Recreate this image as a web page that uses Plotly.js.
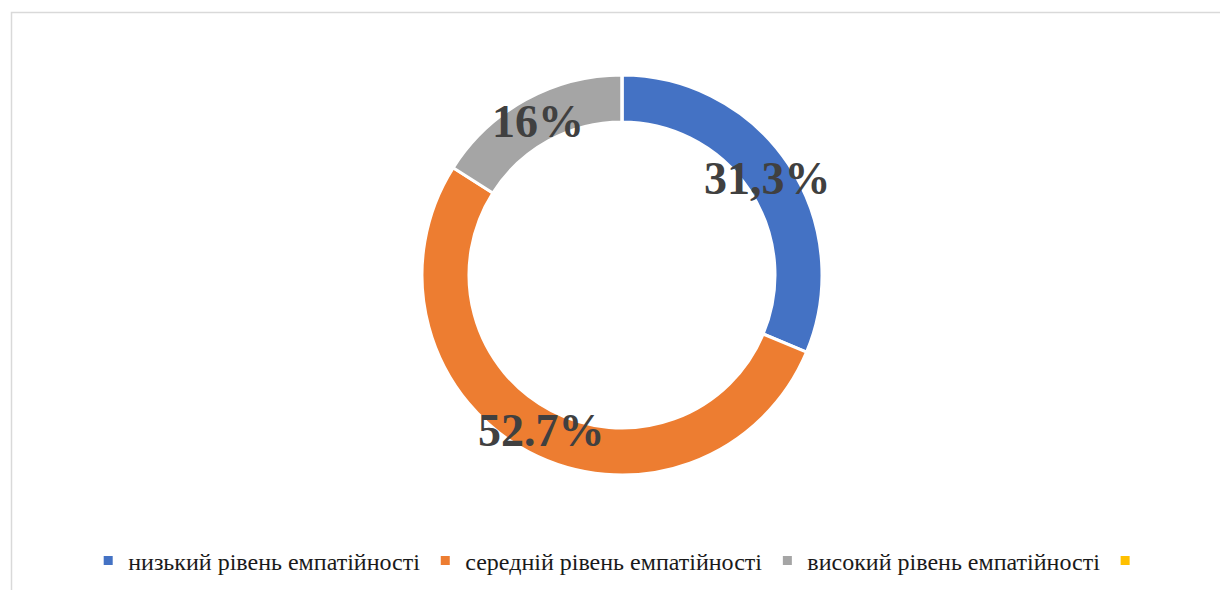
<!DOCTYPE html>
<html>
<head>
<meta charset="utf-8">
<script src="https://cdn.plot.ly/plotly-3.0.1.min.js"></script>
<style>html,body{margin:0;padding:0;background:#fff}#chart{width:1220px;height:590px}</style>
</head>
<body>
<div id="chart"></div>
<script>
var categories = ['низький рівень емпатійності', 'середній рівень емпатійності', 'високий рівень емпатійності', ' '];
var values = [31.3, 52.7, 16, 0];
var valueLabels = ['31,3%', '52.7%', '16%', ''];
var colors = ['#4472C4', '#ED7D31', '#A5A5A5', '#FFC000'];

var W = 1220, H = 590;
var cxPx = 622, cyPx = 275, Rpx = 200;
var dom = {
  x: [(cxPx - Rpx) / W, (cxPx + Rpx) / W],
  y: [1 - (cyPx + Rpx) / H, 1 - (cyPx - Rpx) / H]
};
var serif = 'Liberation Serif, Times New Roman, serif';

var trace = {
  type: 'pie',
  labels: categories,
  values: values,
  sort: false,
  direction: 'clockwise',
  rotation: 0,
  hole: 0.765,
  textinfo: 'none',
  hoverinfo: 'label+percent',
  marker: {colors: colors, line: {color: '#ffffff', width: 3}},
  domain: dom,
  showlegend: true
};

// label annotations placed at each slice's mid-angle on the ring
var total = values.reduce(function (a, b) { return a + b; }, 0);
var annotations = [];
var cum = 0;
var rLab = 175;
for (var i = 0; i < values.length; i++) {
  var v = values[i];
  if (v > 0 && valueLabels[i]) {
    var th = 2 * Math.PI * (cum + v / 2) / total;
    annotations.push({
      xref: 'paper', yref: 'paper',
      x: (cxPx + rLab * Math.sin(th)) / W,
      y: 1 - (cyPx - rLab * Math.cos(th)) / H,
      xanchor: 'center', yanchor: 'middle',
      text: '<b>' + valueLabels[i] + '</b>',
      showarrow: false,
      font: {family: serif, size: 46, color: '#404040'}
    });
  }
  cum += v;
}

var layout = {
  width: W, height: H,
  margin: {l: 0, r: 0, t: 0, b: 0, autoexpand: false},
  paper_bgcolor: '#ffffff',
  font: {family: serif, color: '#1a1a1a'},
  showlegend: true,
  legend: {
    orientation: 'h',
    xref: 'container', yref: 'container',
    x: 0.51, xanchor: 'center',
    y: 1 - 561 / H, yanchor: 'middle',
    font: {family: serif, size: 24, color: '#1a1a1a'},
    itemclick: false, itemdoubleclick: false
  },
  annotations: annotations,
  shapes: [{
    type: 'rect', xref: 'paper', yref: 'paper',
    x0: 11.5 / W, x1: 1.02, y0: -0.02, y1: 1 - 12.5 / H,
    line: {color: '#d9d9d9', width: 1.5},
    fillcolor: 'rgba(0,0,0,0)'
  }]
};

Plotly.newPlot('chart', [trace], layout, {displayModeBar: false, staticPlot: true});
</script>
</body>
</html>
